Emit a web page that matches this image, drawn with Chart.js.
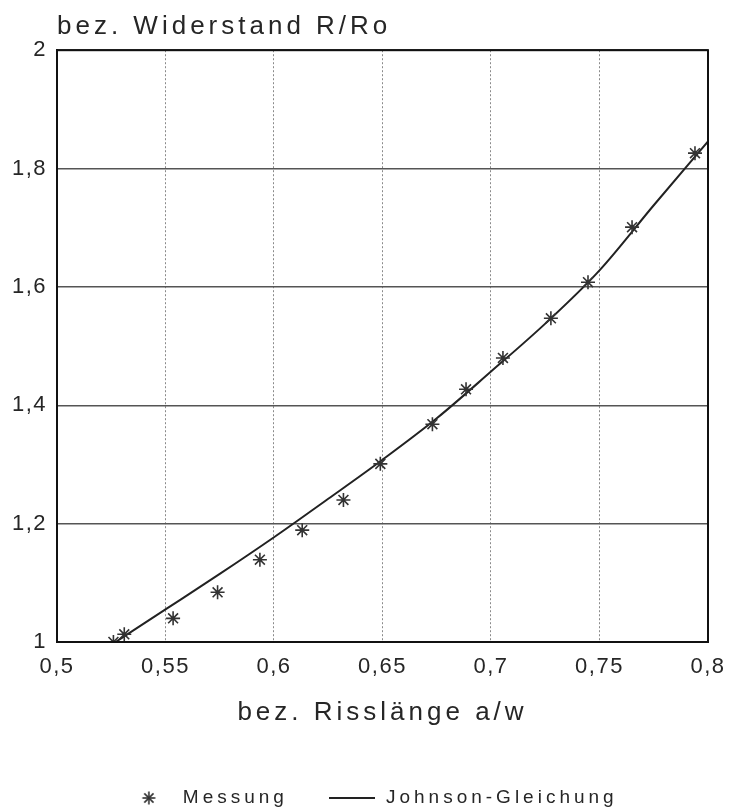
<!DOCTYPE html>
<html>
<head>
<meta charset="utf-8">
<script src="https://cdn.jsdelivr.net/npm/chart.js@4"></script>
<style>
  html, body { margin: 0; background: #fff; }
  #wrap { width: 732px; height: 808px; }
</style>
</head>
<body>
<div id="wrap"><canvas id="chart"></canvas></div>
<script>
// Messwerte (Sterne)
const messungX = [0.526, 0.531, 0.5535, 0.574, 0.5935, 0.613, 0.632, 0.649, 0.673, 0.6885, 0.7055, 0.7276, 0.7447, 0.765, 0.794]
const messungY = [1.000, 1.013, 1.040, 1.084, 1.139, 1.189, 1.240, 1.301, 1.368, 1.427, 1.480, 1.547, 1.608, 1.701, 1.826]

// Johnson-Gleichung (Linie)
const johnsonX = [0.527, 0.55, 0.575, 0.6, 0.625, 0.65, 0.675, 0.7, 0.725, 0.75, 0.775, 0.8]
const johnsonY = [1.000, 1.055, 1.115, 1.177, 1.242, 1.308, 1.378, 1.457, 1.538, 1.628, 1.738, 1.846]

const xTicks = [0.5, 0.55, 0.6, 0.65, 0.7, 0.75, 0.8]
const yTicks = [1, 1.2, 1.4, 1.6, 1.8, 2]

const textColor = '#262626'
Chart.defaults.font.family = "'Liberation Sans', Arial, sans-serif"
Chart.defaults.color = textColor

const fmt = v => String(Math.round(v * 100) / 100).replace('.', ',')

// kleine Bilder fuer die Legende
function makeStar() {
    const c = document.createElement('canvas')
    c.width = 16
    c.height = 16
    const g = c.getContext('2d')
    g.strokeStyle = '#333'
    g.lineWidth = 1.6
    for (let i = 0; i < 4; i++) {
        const a = i * Math.PI / 4
        g.beginPath()
        g.moveTo(8 - Math.cos(a) * 6.5, 8 - Math.sin(a) * 6.5)
        g.lineTo(8 + Math.cos(a) * 6.5, 8 + Math.sin(a) * 6.5)
        g.stroke()
    }
    return c
}
function makeLine() {
    const c = document.createElement('canvas')
    c.width = 46
    c.height = 2
    const g = c.getContext('2d')
    g.fillStyle = '#222'
    g.fillRect(0, 0, 46, 2)
    return c
}
const starImg = makeStar()
const lineImg = makeLine()

// Buchstabenabstand wie im Original (Plotterschrift)
const spacingPlugin = {
    id: 'spacing',
    beforeUpdate(chart) { chart.ctx.letterSpacing = '4px' },
    beforeDraw(chart) { chart.ctx.letterSpacing = '4px' },
    afterDatasetsDraw(chart) { chart.ctx.letterSpacing = '1.5px' },
    afterDraw(chart) {
        const {ctx, chartArea} = chart
        ctx.save()
        ctx.strokeStyle = '#111'
        ctx.lineWidth = 2
        ctx.setLineDash([])
        ctx.strokeRect(chartArea.left, chartArea.top, chartArea.right - chartArea.left, chartArea.bottom - chartArea.top)
        ctx.restore()
        ctx.letterSpacing = '0px'
    }
}

const ctx = document.getElementById('chart')

new Chart(ctx, {
    type: 'scatter',
    data: {
        datasets: [{
            label: 'Messung',
            data: messungX.map((x, i) => ({x: x, y: messungY[i]})),
            pointStyle: 'star',
            pointRadius: 7,
            pointHoverRadius: 7,
            borderColor: '#333',
            backgroundColor: '#333',
            borderWidth: 1.6,
            showLine: false
        }, {
            label: 'Johnson-Gleichung',
            data: johnsonX.map((x, i) => ({x: x, y: johnsonY[i]})),
            showLine: true,
            pointRadius: 0,
            borderColor: '#222',
            backgroundColor: '#222',
            borderWidth: 2,
            cubicInterpolationMode: 'monotone',
            fill: false
        }]
    },
    options: {
        responsive: true,
        maintainAspectRatio: false,
        animation: false,
        events: [],
        layout: {
            padding: {left: 10, right: 0, top: 0, bottom: 0}
        },
        scales: {
            x: {
                type: 'linear',
                min: 0.5,
                max: 0.8,
                afterBuildTicks: s => { s.ticks = xTicks.map(v => ({value: v})) },
                afterFit: s => {
                    s.height = 107
                    s.paddingRight = 24
                },
                ticks: {
                    padding: 12,
                    z: 1,
                    font: {size: 22},
                    color: textColor,
                    callback: v => fmt(v)
                },
                grid: {
                    color: '#8a8a8a',
                    lineWidth: 1,
                    drawTicks: false
                },
                border: {color: '#111', width: 2, dash: [2, 2]},
                title: {
                    display: true,
                    text: 'bez. Risslänge a/w',
                    font: {size: 26},
                    color: textColor,
                    padding: {top: 0, bottom: 21}
                }
            },
            y: {
                type: 'linear',
                min: 1,
                max: 2,
                afterBuildTicks: s => { s.ticks = yTicks.map(v => ({value: v})) },
                afterFit: s => { s.width = 47 },
                ticks: {
                    padding: 10,
                    z: 1,
                    font: {size: 22},
                    color: textColor,
                    callback: v => fmt(v)
                },
                grid: {
                    color: '#555',
                    lineWidth: 1.5,
                    drawTicks: false
                },
                border: {color: '#111', width: 2}
            }
        },
        plugins: {
            title: {
                display: true,
                text: 'bez. Widerstand R/Ro',
                align: 'start',
                fullSize: false,
                color: textColor,
                font: {size: 26, weight: 'normal'},
                padding: {top: 11, bottom: 8}
            },
            legend: {
                position: 'bottom',
                maxHeight: 59,
                labels: {
                    usePointStyle: true,
                    pointStyleWidth: 49,
                    padding: 39.5,
                    color: textColor,
                    font: {size: 19},
                    generateLabels: chart => {
                        const items = Chart.defaults.plugins.legend.labels.generateLabels(chart)
                        items[0].pointStyle = starImg
                        items[1].pointStyle = lineImg
                        return items
                    }
                }
            },
            tooltip: {enabled: false}
        }
    },
    plugins: [spacingPlugin]
})
</script>
</body>
</html>
